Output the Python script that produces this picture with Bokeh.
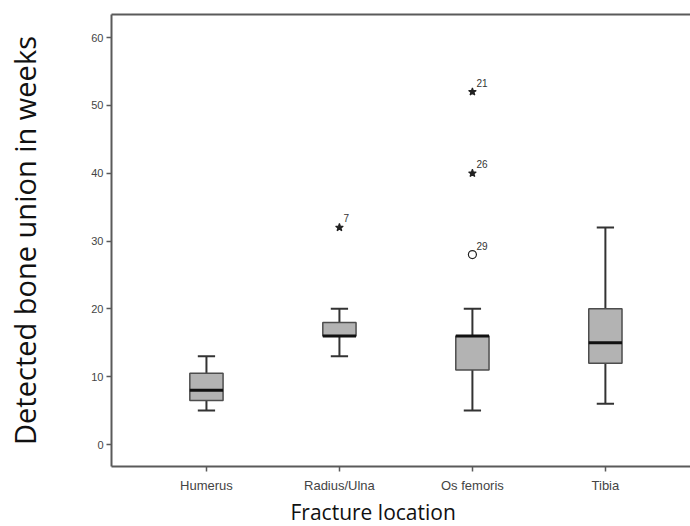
from bokeh.plotting import figure
from bokeh.models import FixedTicker, Range1d, ColumnDataSource, Title, LinearAxis
from bokeh.core.properties import value
from bokeh.embed import file_html
from bokeh.resources import INLINE

categories = ["Humerus", "Radius/Ulna", "Os femoris", "Tibia"]
positions = [1, 2, 3, 4]
q1 = [6.5, 16, 11, 12]
median = [8, 16, 16, 15]
q3 = [10.5, 18, 16, 20]
lower_whisker = [5, 13, 5, 6]
upper_whisker = [13, 20, 20, 32]

out_cat = [2, 3, 3, 3]
out_val = [32, 52, 40, 28]
out_label = ["7", "21", "26", "29"]
out_kind = ["star", "star", "star", "circle"]

box_w = 0.25
cap_w = 0.13

p = figure(width=690, height=526, output_backend="svg", toolbar_location=None,
           x_range=Range1d(0.286, 4.64), y_range=Range1d(-3.24, 63.4),
           min_border_left=111, min_border_right=0, min_border_top=14, min_border_bottom=60)
p.xgrid.visible = False
p.ygrid.visible = False
p.background_fill_color = "white"
p.border_fill_color = "white"
p.outline_line_color = None

src = ColumnDataSource(dict(
    x=positions, q1=q1, q3=q3, med=median, lo=lower_whisker, hi=upper_whisker,
    xl=[v - box_w / 2 for v in positions], xr=[v + box_w / 2 for v in positions],
    cl=[v - cap_w / 2 for v in positions], cr=[v + cap_w / 2 for v in positions],
))

# whiskers
p.segment(x0="x", y0="q3", x1="x", y1="hi", source=src, line_color="#333333", line_width=2)
p.segment(x0="x", y0="lo", x1="x", y1="q1", source=src, line_color="#333333", line_width=2)
p.segment(x0="cl", y0="hi", x1="cr", y1="hi", source=src, line_color="#333333", line_width=2)
p.segment(x0="cl", y0="lo", x1="cr", y1="lo", source=src, line_color="#333333", line_width=2)
# boxes
p.vbar(x="x", width=box_w, bottom="q1", top="q3", source=src,
       fill_color="#b3b3b3", line_color="#4d4d4d", line_width=1.5)
# medians
p.segment(x0="xl", y0="med", x1="xr", y1="med", source=src, line_color="#111111", line_width=3)

# outliers
osrc = ColumnDataSource(dict(x=out_cat, y=out_val, t=out_label, m=out_kind,
                             fc=["#222222" if k == "star" else None for k in out_kind]))
p.scatter(x="x", y="y", marker="m", size=8, source=osrc, line_color="#222222",
          fill_color="fc", line_width=1.2)
p.text(x="x", y="y", text="t", source=osrc, x_offset=4, y_offset=-5,
       text_font=value("Liberation Sans"), text_font_size="10px", text_color="#333333",
       text_baseline="bottom")

# axes
for ax in (p.xaxis, p.yaxis):
    ax.axis_line_color = "#5a5a5a"
    ax.axis_line_width = 2
    ax.major_tick_line_color = "#5a5a5a"
    ax.major_tick_line_width = 1.5
    ax.major_tick_out = 5
    ax.major_tick_in = 0
    ax.minor_tick_line_color = None
    ax.major_label_text_font = "Liberation Sans"
    ax.major_label_text_color = "#444444"

p.yaxis.major_label_text_font_size = "11px"
p.xaxis.major_label_text_font_size = "13px"

p.yaxis.ticker = FixedTicker(ticks=[0, 10, 20, 30, 40, 50, 60])
p.yaxis.major_label_standoff = 3
p.yaxis.axis_label = "Detected bone union in weeks"
p.yaxis.axis_label_text_font = "Open Sans"
p.yaxis.axis_label_text_font_size = "29px"
p.yaxis.axis_label_text_font_style = "normal"
p.yaxis.axis_label_text_color = "#111111"
p.yaxis.axis_label_standoff = 44

p.xaxis.ticker = FixedTicker(ticks=positions)
p.xaxis.major_label_overrides = {pos: c for pos, c in zip(positions, categories)}
p.xaxis.major_label_standoff = 6

top_axis = LinearAxis(ticker=FixedTicker(ticks=[]), axis_line_color="#5a5a5a",
                      axis_line_width=2, major_tick_line_color=None,
                      minor_tick_line_color=None)
p.add_layout(top_axis, "above")

xt = Title(text="Fracture location", align="left", offset=179, text_font="Open Sans",
           text_font_size="21px", text_font_style="normal", text_color="#111111",
           standoff=0)
p.add_layout(xt, "below")

open("out.html", "w").write(file_html(p, INLINE))
